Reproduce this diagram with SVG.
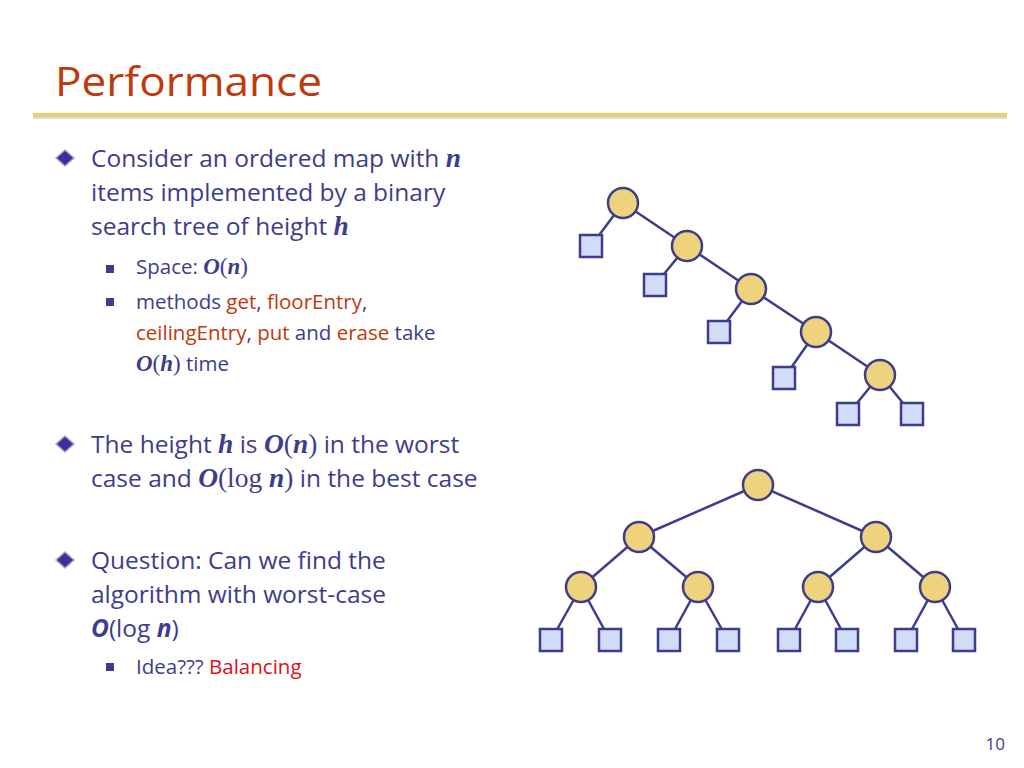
<svg xmlns="http://www.w3.org/2000/svg" width="1024" height="768" viewBox="0 0 1024 768">
<style>
.t{font-family:"Open Sans","Liberation Sans",sans-serif;fill:#3d3d8c}
.b{font-size:24.5px}.s{font-size:20.5px}
.r{fill:#c0390b}.rr{fill:#e0101a}
.m{font-family:"Liberation Serif",serif;font-weight:bold;font-style:italic;font-size:1.12em}
.mr{font-family:"Liberation Serif",serif;font-size:1.12em}
.c{fill:#efd27c;stroke:#3d3d8c;stroke-width:2.5}
.q{fill:#d0dcf8;stroke:#3d3d8c;stroke-width:2.5}
.e{stroke:#3d3d8c;stroke-width:2.5}
</style>
<rect width="1024" height="768" fill="#fff"/>
<text x="55" y="96" font-family="Open Sans,Liberation Sans,sans-serif" font-size="41" fill="#c0390b" textLength="267" lengthAdjust="spacingAndGlyphs">Performance</text>
<rect x="33" y="113" width="974" height="4" fill="#e6d36a"/>
<rect x="33" y="117" width="974" height="2" fill="#ddd"/>
<g id="bullets">
<path d="M65 150 l9 8 -9 8 -9 -8z" fill="#3d2fa0" stroke="#a8a8c8" stroke-width="1.5"/>
<path d="M65 436 l9 8 -9 8 -9 -8z" fill="#3d2fa0" stroke="#a8a8c8" stroke-width="1.5"/>
<path d="M65 552 l9 8 -9 8 -9 -8z" fill="#3d2fa0" stroke="#a8a8c8" stroke-width="1.5"/>
<rect x="106" y="265" width="8" height="8" fill="#3d3d8c"/>
<rect x="106" y="298" width="8" height="8" fill="#3d3d8c"/>
<rect x="106" y="663" width="8" height="8" fill="#3d3d8c"/>
</g>
<g class="t b">
<text x="91" y="167">Consider an ordered map with <tspan class="m">n</tspan></text>
<text x="91" y="201">items implemented by a binary</text>
<text x="91" y="235">search tree of height <tspan class="m">h</tspan></text>
<text x="91" y="453">The height <tspan class="m">h</tspan> is <tspan class="m">O</tspan><tspan class="mr">(</tspan><tspan class="m">n</tspan><tspan class="mr">)</tspan> in the worst</text>
<text x="91" y="487">case and <tspan class="m">O</tspan><tspan class="mr">(log </tspan><tspan class="m">n</tspan><tspan class="mr">)</tspan> in the best case</text>
<text x="91" y="569">Question: Can we find the</text>
<text x="91" y="603">algorithm with worst-case</text>
<text x="91" y="637"><tspan font-weight="bold" font-style="italic">O</tspan>(log <tspan font-weight="bold" font-style="italic">n</tspan>)</text>
</g>
<g class="t s">
<text x="136" y="274">Space: <tspan class="m">O</tspan><tspan class="mr">(</tspan><tspan class="m">n</tspan><tspan class="mr">)</tspan></text>
<text x="136" y="309">methods <tspan class="r">get</tspan>, <tspan class="r">floorEntry</tspan>,</text>
<text x="136" y="340"><tspan class="r">ceilingEntry</tspan>, <tspan class="r">put</tspan> and <tspan class="r">erase</tspan> take</text>
<text x="136" y="371"><tspan class="m">O</tspan><tspan class="mr">(</tspan><tspan class="m">h</tspan><tspan class="mr">)</tspan> time</text>
<text x="136" y="674">Idea??? <tspan class="rr">Balancing</tspan></text>
</g>
<g id="connectors" class="e">
<line x1="623" y1="203" x2="591" y2="246"/><line x1="623" y1="203" x2="687" y2="246"/>
<line x1="687" y1="246" x2="655" y2="285"/><line x1="687" y1="246" x2="751" y2="289"/>
<line x1="751" y1="289" x2="719" y2="332"/><line x1="751" y1="289" x2="816" y2="332"/>
<line x1="816" y1="332" x2="784" y2="378"/><line x1="816" y1="332" x2="880" y2="375"/>
<line x1="880" y1="375" x2="848" y2="414"/><line x1="880" y1="375" x2="912" y2="414"/>
<line x1="758" y1="485" x2="639" y2="537"/><line x1="758" y1="485" x2="876" y2="537"/>
<line x1="639" y1="537" x2="581" y2="587"/><line x1="639" y1="537" x2="698" y2="587"/>
<line x1="876" y1="537" x2="818" y2="587"/><line x1="876" y1="537" x2="935" y2="587"/>
<line x1="581" y1="587" x2="551" y2="640"/><line x1="581" y1="587" x2="610" y2="640"/>
<line x1="698" y1="587" x2="669" y2="640"/><line x1="698" y1="587" x2="728" y2="640"/>
<line x1="818" y1="587" x2="789" y2="640"/><line x1="818" y1="587" x2="847" y2="640"/>
<line x1="935" y1="587" x2="906" y2="640"/><line x1="935" y1="587" x2="964" y2="640"/>
</g>
<g id="nodes">
<circle id="a1" class="c" cx="623" cy="203" r="15"/><circle id="a2" class="c" cx="687" cy="246" r="15"/>
<circle id="a3" class="c" cx="751" cy="289" r="15"/><circle id="a4" class="c" cx="816" cy="332" r="15"/>
<circle id="a5" class="c" cx="880" cy="375" r="15"/>
<rect id="s1" class="q" x="580" y="235" width="22" height="22"/><rect id="s2" class="q" x="644" y="274" width="22" height="22"/>
<rect id="s3" class="q" x="708" y="321" width="22" height="22"/><rect id="s4" class="q" x="773" y="367" width="22" height="22"/>
<rect id="s5" class="q" x="837" y="403" width="22" height="22"/><rect id="s6" class="q" x="901" y="403" width="22" height="22"/>
<circle id="b1" class="c" cx="758" cy="485" r="15"/>
<circle id="b2" class="c" cx="639" cy="537" r="15"/><circle id="b3" class="c" cx="876" cy="537" r="15"/>
<circle id="b4" class="c" cx="581" cy="587" r="15"/><circle id="b5" class="c" cx="698" cy="587" r="15"/>
<circle id="b6" class="c" cx="818" cy="587" r="15"/><circle id="b7" class="c" cx="935" cy="587" r="15"/>
<rect id="l1" class="q" x="540" y="629" width="22" height="22"/><rect id="l2" class="q" x="599" y="629" width="22" height="22"/>
<rect id="l3" class="q" x="658" y="629" width="22" height="22"/><rect id="l4" class="q" x="717" y="629" width="22" height="22"/>
<rect id="l5" class="q" x="778" y="629" width="22" height="22"/><rect id="l6" class="q" x="836" y="629" width="22" height="22"/>
<rect id="l7" class="q" x="895" y="629" width="22" height="22"/><rect id="l8" class="q" x="953" y="629" width="22" height="22"/>
</g>
<text x="1005" y="750" text-anchor="end" font-family="Open Sans,Liberation Sans,sans-serif" font-size="17" fill="#3d3d8c">10</text>
</svg>
